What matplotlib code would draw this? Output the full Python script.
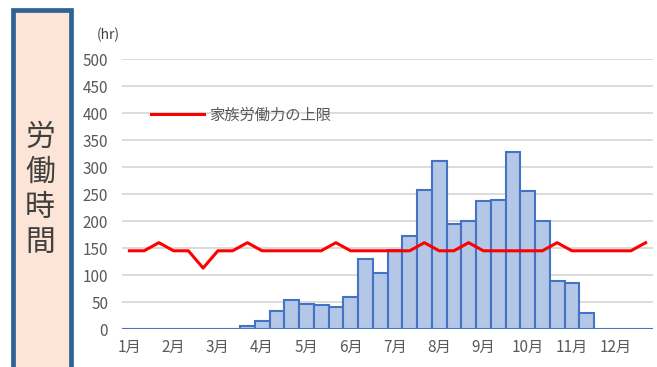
import matplotlib
matplotlib.use("Agg")
import matplotlib.pyplot as plt
from matplotlib.patches import Rectangle
import numpy as np

plt.rcParams['font.family'] = ['Noto Sans CJK JP', 'DejaVu Sans']

# 旬別 (上・中・下旬) の労働時間
months = ["1月", "2月", "3月", "4月", "5月", "6月", "7月", "8月", "9月", "10月", "11月", "12月"]
labor_hours = [0, 0, 0, 0, 0, 0, 0, 0, 5,
               15, 33, 53, 46, 45, 40, 59, 130, 104,
               147, 173, 258, 312, 194, 201, 238, 239, 329,
               256, 200, 89, 86, 30, 0, 0, 0, 0]
family_limit = [145, 145, 160, 145, 145, 113, 145, 145, 160,
                145, 145, 145, 145, 145, 160, 145, 145, 145,
                145, 145, 160, 145, 145, 160, 145, 145, 145,
                145, 145, 160, 145, 145, 145, 145, 145, 160]
y_ticks = list(range(0, 501, 50))

W, H = 657, 367
fig = plt.figure(figsize=(W / 100, H / 100), dpi=100)

# 左側の見出しパネル
panel = fig.add_axes([0, 0, 1, 1], zorder=0)
panel.set_xlim(0, W)
panel.set_ylim(H, 0)
panel.axis("off")
panel.add_patch(Rectangle((12.5, 9.5), 58, 370, facecolor="#FCE4D6",
                          edgecolor="#2F6396", linewidth=3.4))
for i, ch in enumerate("労働時間"):
    panel.text(40, 137 + i * 35, ch, fontsize=21.5, color="#404040",
               ha="center", va="center")
panel.text(108, 35, "(hr)", fontsize=10, color="#404040",
           ha="center", va="center")

ax = fig.add_axes([122 / W, 1 - 329 / H, 531 / W, (329 - 59.3) / H], zorder=1)
x = np.arange(len(labor_hours))
ax.bar(x, labor_hours, width=1.0, color="#B4C7E7", edgecolor="#4472C4",
       linewidth=1.5, zorder=2)
ax.plot(x, family_limit, color="#FF0000", linewidth=2.2, zorder=3,
        label="家族労働力の上限")

ax.set_xlim(-0.5, 35.5)
ax.set_ylim(0, 500)
ax.set_yticks(y_ticks)
ax.set_xticks(np.arange(0, 36, 3))
ax.set_xticklabels(months)
ax.yaxis.grid(True, color="#D9D9D9", linewidth=1.3, zorder=0)
ax.set_axisbelow(True)
for s in ax.spines.values():
    s.set_visible(False)
ax.tick_params(axis="both", length=0, labelsize=11, labelcolor="#595959")
ax.tick_params(axis="y", pad=10)
ax.tick_params(axis="x", pad=7)
ax.set_facecolor("none")

ax.legend(loc="center left", bbox_to_anchor=(29 / 531, 0.793), frameon=False,
          fontsize=11, labelcolor="#595959", handlelength=3.45,
          handletextpad=0.33, borderpad=0, borderaxespad=0)

fig.savefig("out.png", dpi=100)
